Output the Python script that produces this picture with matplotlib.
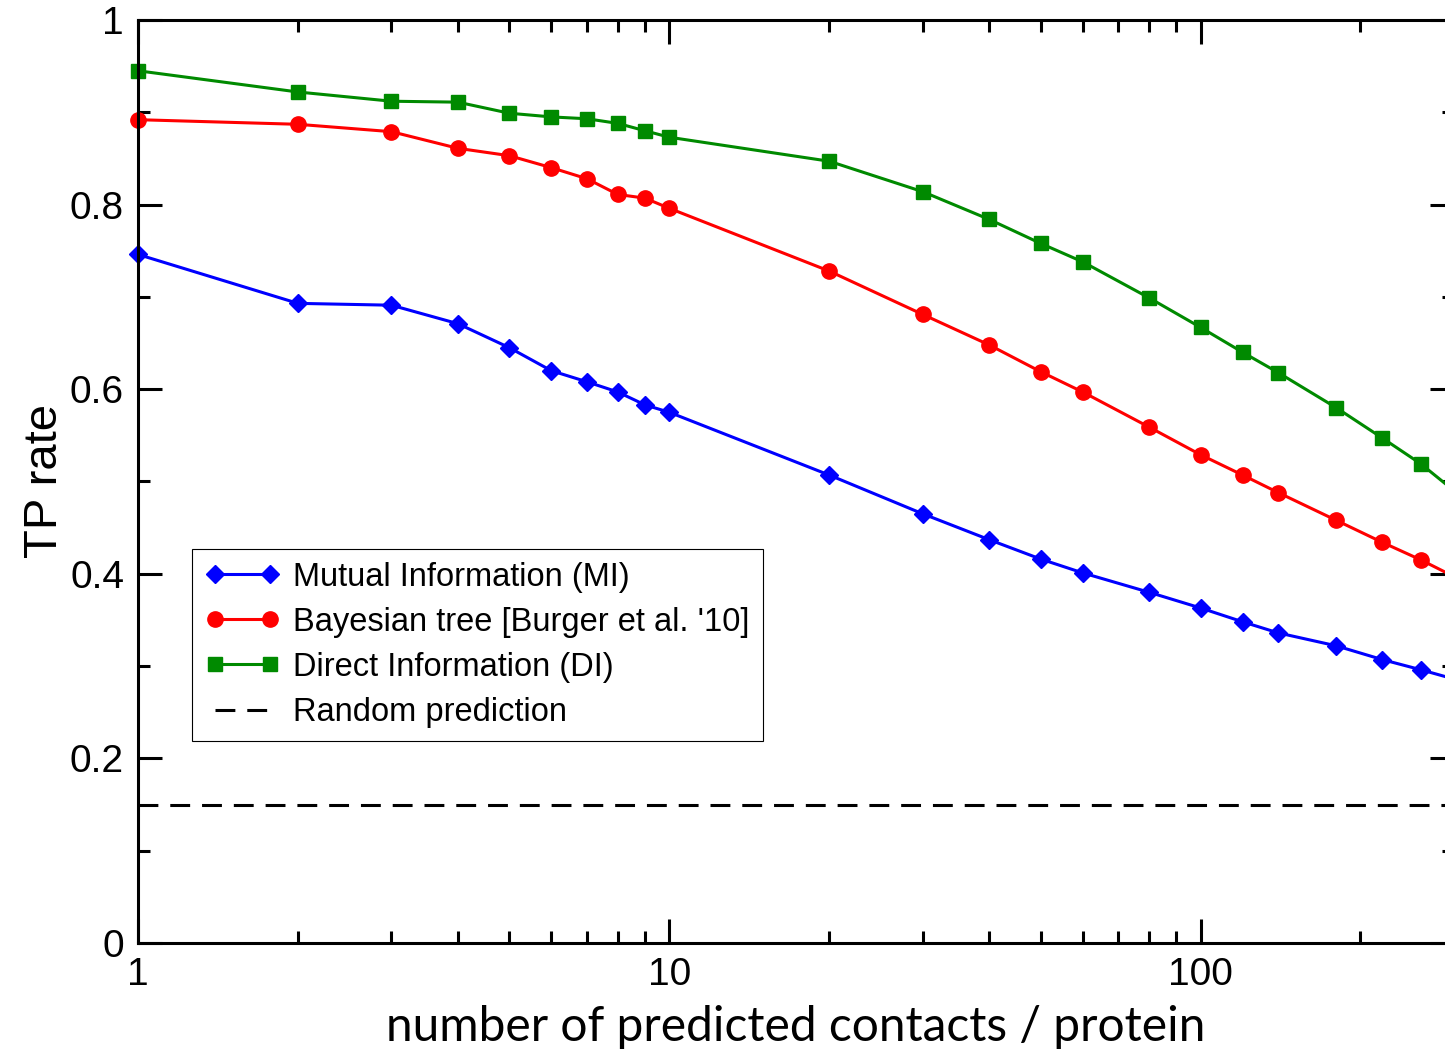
import matplotlib
matplotlib.use("Agg")
import matplotlib.pyplot as plt
from matplotlib.ticker import FuncFormatter, LogLocator, NullFormatter, MultipleLocator

n_contacts = [1, 2, 3, 4, 5, 6, 7, 8, 9, 10, 20, 30, 40, 50, 60, 80, 100, 120, 140, 180, 220, 260, 300]
mi = [0.746, 0.693, 0.691, 0.671, 0.645, 0.620, 0.608, 0.597, 0.583, 0.575, 0.507, 0.465, 0.437,
      0.416, 0.401, 0.380, 0.363, 0.348, 0.336, 0.322, 0.307, 0.296, 0.286]
bayes = [0.892, 0.887, 0.879, 0.861, 0.853, 0.840, 0.828, 0.811, 0.807, 0.796, 0.728, 0.681, 0.648,
         0.619, 0.597, 0.559, 0.529, 0.507, 0.488, 0.458, 0.434, 0.415, 0.397]
di = [0.945, 0.922, 0.912, 0.911, 0.899, 0.895, 0.893, 0.888, 0.880, 0.873, 0.847, 0.814, 0.784,
      0.758, 0.738, 0.699, 0.667, 0.640, 0.618, 0.580, 0.547, 0.519, 0.490]
random_rate = 0.15

labels = ["Mutual Information (MI)", "Bayesian tree [Burger et al. '10]",
          "Direct Information (DI)", "Random prediction"]

W, H = 1445, 1052
fig = plt.figure(figsize=(W / 100, H / 100), dpi=100)
left, right, top, bottom = 138, 1454, 20, 943
ax = fig.add_axes([left / W, 1 - bottom / H, (right - left) / W, (bottom - top) / H])

lw = 2.2
ax.plot(n_contacts, mi, color="#0000ff", lw=lw, marker="D", ms=9.5, clip_on=False, label=labels[0])
ax.plot(n_contacts, bayes, color="#ff0000", lw=lw, marker="o", ms=11, clip_on=False, label=labels[1])
ax.plot(n_contacts, di, color="#008a00", lw=lw, marker="s", ms=9.5, clip_on=False, label=labels[2])
ax.axhline(random_rate, color="black", lw=lw, dashes=(6.5, 3.9), label=labels[3])

ax.set_xscale("log")
ax.set_xlim(1, 300)
ax.set_ylim(0, 1)

ax.xaxis.set_major_locator(LogLocator(base=10, numticks=10))
ax.xaxis.set_minor_locator(LogLocator(base=10, subs=range(2, 10), numticks=20))
ax.xaxis.set_minor_formatter(NullFormatter())
ax.xaxis.set_major_formatter(FuncFormatter(lambda v, p: f"{v:g}"))
ax.yaxis.set_major_locator(MultipleLocator(0.2))
ax.yaxis.set_minor_locator(MultipleLocator(0.1))
ax.yaxis.set_major_formatter(FuncFormatter(
    lambda v, p: f"{int(round(v))}" if abs(v - round(v)) < 1e-9 else f"{v:.1f}"))

ax.tick_params(which="both", direction="in", top=True, right=True, width=2.2, colors="black")
ax.tick_params(which="major", length=17, labelsize=28, pad=10)
ax.tick_params(which="minor", length=8.5)
for lab in ax.get_xticklabels() + ax.get_yticklabels():
    lab.set_family(["Liberation Sans", "DejaVu Sans"])
for s in ax.spines.values():
    s.set_linewidth(2.2)

ax.set_xlabel("number of predicted contacts / protein", fontsize=34.5, family=["Lato", "DejaVu Sans"], labelpad=9)
ax.set_ylabel("TP rate", fontsize=34, family=["Liberation Sans", "DejaVu Sans"], labelpad=2)

leg = ax.legend(loc="lower left", bbox_to_anchor=((192 - left) / (right - left), (bottom - 741) / (bottom - top)),
                borderaxespad=0, fancybox=False, frameon=True, edgecolor="black", framealpha=1,
                prop={"family": ["Liberation Sans", "DejaVu Sans"], "size": 23.5},
                numpoints=2, handlelength=2.3, handletextpad=0.4, labelspacing=0.43, borderpad=0.4)
leg.get_frame().set_linewidth(0.8)

fig.savefig("out.png", dpi=100)
